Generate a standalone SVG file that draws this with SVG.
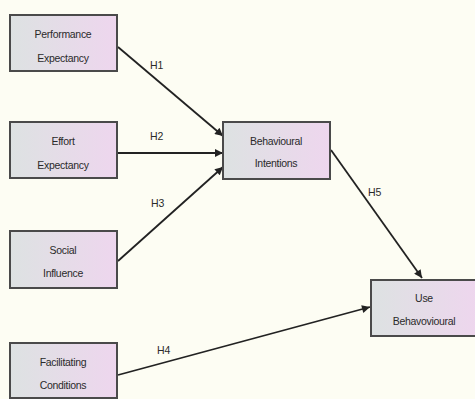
<svg xmlns="http://www.w3.org/2000/svg" width="475" height="399" viewBox="0 0 475 399">
<defs>
<linearGradient id="bg" x1="0" y1="0" x2="1" y2="0">
<stop offset="0" stop-color="#dde2e2"/>
<stop offset="1" stop-color="#eed6ee"/>
</linearGradient>
<marker id="ah" viewBox="0 0 10 10" refX="10" refY="5" markerWidth="10" markerHeight="8" markerUnits="userSpaceOnUse" orient="auto">
<path d="M0,0 L10,5 L0,10 z" fill="#222"/>
</marker>
<style>
.box{fill:url(#bg);stroke:#4a4a4a;stroke-width:2}
.t{font-family:"Liberation Sans",Arial,sans-serif;font-size:10.5px;fill:#2a2a2a;text-anchor:middle;letter-spacing:-0.3px}
.lbl{font-family:"Liberation Sans",Arial,sans-serif;font-size:10.5px;fill:#2a2a2a}
.c{stroke:#222;stroke-width:1.8;fill:none;marker-end:url(#ah)}
</style>
</defs>
<rect width="475" height="399" fill="#fdfdf3"/>
<g id="connectors">
<line class="c" x1="118" y1="47" x2="223" y2="136"/>
<line class="c" x1="118" y1="153" x2="223" y2="153"/>
<line class="c" x1="118" y1="261" x2="223" y2="167"/>
<line class="c" x1="118" y1="375" x2="370" y2="307"/>
<line class="c" x1="331" y1="150" x2="422" y2="278"/>
<text class="lbl" x="150" y="69">H1</text>
<text class="lbl" x="150" y="140">H2</text>
<text class="lbl" x="151" y="207">H3</text>
<text class="lbl" x="157" y="354">H4</text>
<text class="lbl" x="368" y="196">H5</text>
</g>
<g id="performance-expectancy">
<rect class="box" x="10" y="15" width="107" height="56"/>
<text class="t" x="63" y="38">Performance</text>
<text class="t" x="63" y="62">Expectancy</text>
</g>
<g id="effort-expectancy">
<rect class="box" x="10" y="122" width="107" height="56"/>
<text class="t" x="63" y="145">Effort</text>
<text class="t" x="63" y="169">Expectancy</text>
</g>
<g id="social-influence">
<rect class="box" x="10" y="231" width="107" height="57"/>
<text class="t" x="63" y="254">Social</text>
<text class="t" x="63" y="277">Influence</text>
</g>
<g id="facilitating-conditions">
<rect class="box" x="10" y="343" width="107" height="55"/>
<text class="t" x="63" y="366">Facilitating</text>
<text class="t" x="63" y="389">Conditions</text>
</g>
<g id="behavioural-intentions">
<rect class="box" x="223" y="122" width="107" height="57"/>
<text class="t" x="276" y="145">Behavioural</text>
<text class="t" x="276" y="167">Intentions</text>
</g>
<g id="use-behavioural">
<rect class="box" x="371" y="280" width="107" height="56"/>
<text class="t" x="424" y="302">Use</text>
<text class="t" x="424" y="325">Behavovioural</text>
</g>
</svg>
